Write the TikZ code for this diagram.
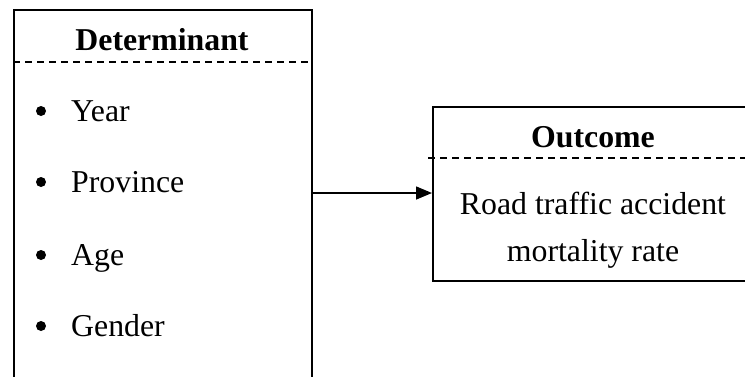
\documentclass[tikz,border=0pt]{standalone}
\usepackage{fontspec}
\setmainfont{Liberation Serif}
\usetikzlibrary{arrows.meta}
\begin{document}
\begin{tikzpicture}[x=1pt,y=-1pt,
  box/.style={draw,line width=1.8pt,inner sep=0pt,anchor=north west},
  sep/.style={line width=1.4pt,dash pattern=on 7pt off 5pt},
  head/.style={font=\fontsize{31.8}{36}\selectfont\bfseries,inner sep=0pt},
  item/.style={font=\fontsize{31.8}{36}\selectfont,anchor=base west,inner sep=0pt},
  dot/.style={circle,fill,inner sep=0pt,minimum size=10pt},
  txt/.style={font=\fontsize{31.8}{36}\selectfont,anchor=base,inner sep=0pt}]
\useasboundingbox (0,0) rectangle (745,376);
\clip (0,0) rectangle (745,376);
% Determinant box
\node[box,minimum width=298pt,minimum height=420pt] (det) at (13,9) {};
\coordinate (dl) at (13,62);
\coordinate (dr) at (311,62);
\draw[sep] (dl) -- (dr);
\node[head,anchor=base] (dh) at (162,50) {Determinant};
\node[dot] (b1) at (41,111) {};
\node[item] (i1) at (71,121) {Year};
\node[dot] (b2) at (41,182) {};
\node[item] (i2) at (71,192) {Province};
\node[dot] (b3) at (41,255) {};
\node[item] (i3) at (71,265) {Age};
\node[dot] (b4) at (41,326) {};
\node[item] (i4) at (71,336) {Gender};
% Outcome box
\node[box,minimum width=400pt,minimum height=174pt] (out) at (432,106) {};
\coordinate (ol) at (428,158);
\coordinate (or) at (750,158);
\draw[sep] (ol) -- (or);
\node[head,anchor=base] (oh) at (593,147) {Outcome};
\node[txt] (o1) at (593,214) {Road traffic accident};
\node[txt] (o2) at (593,261) {mortality rate};
% arrow
\coordinate (a1) at (311,193);
\draw[line width=1.5pt,-{Triangle[length=16pt,width=13pt]}] (det.east |- a1) -- (out.west |- a1);
\end{tikzpicture}
\end{document}
